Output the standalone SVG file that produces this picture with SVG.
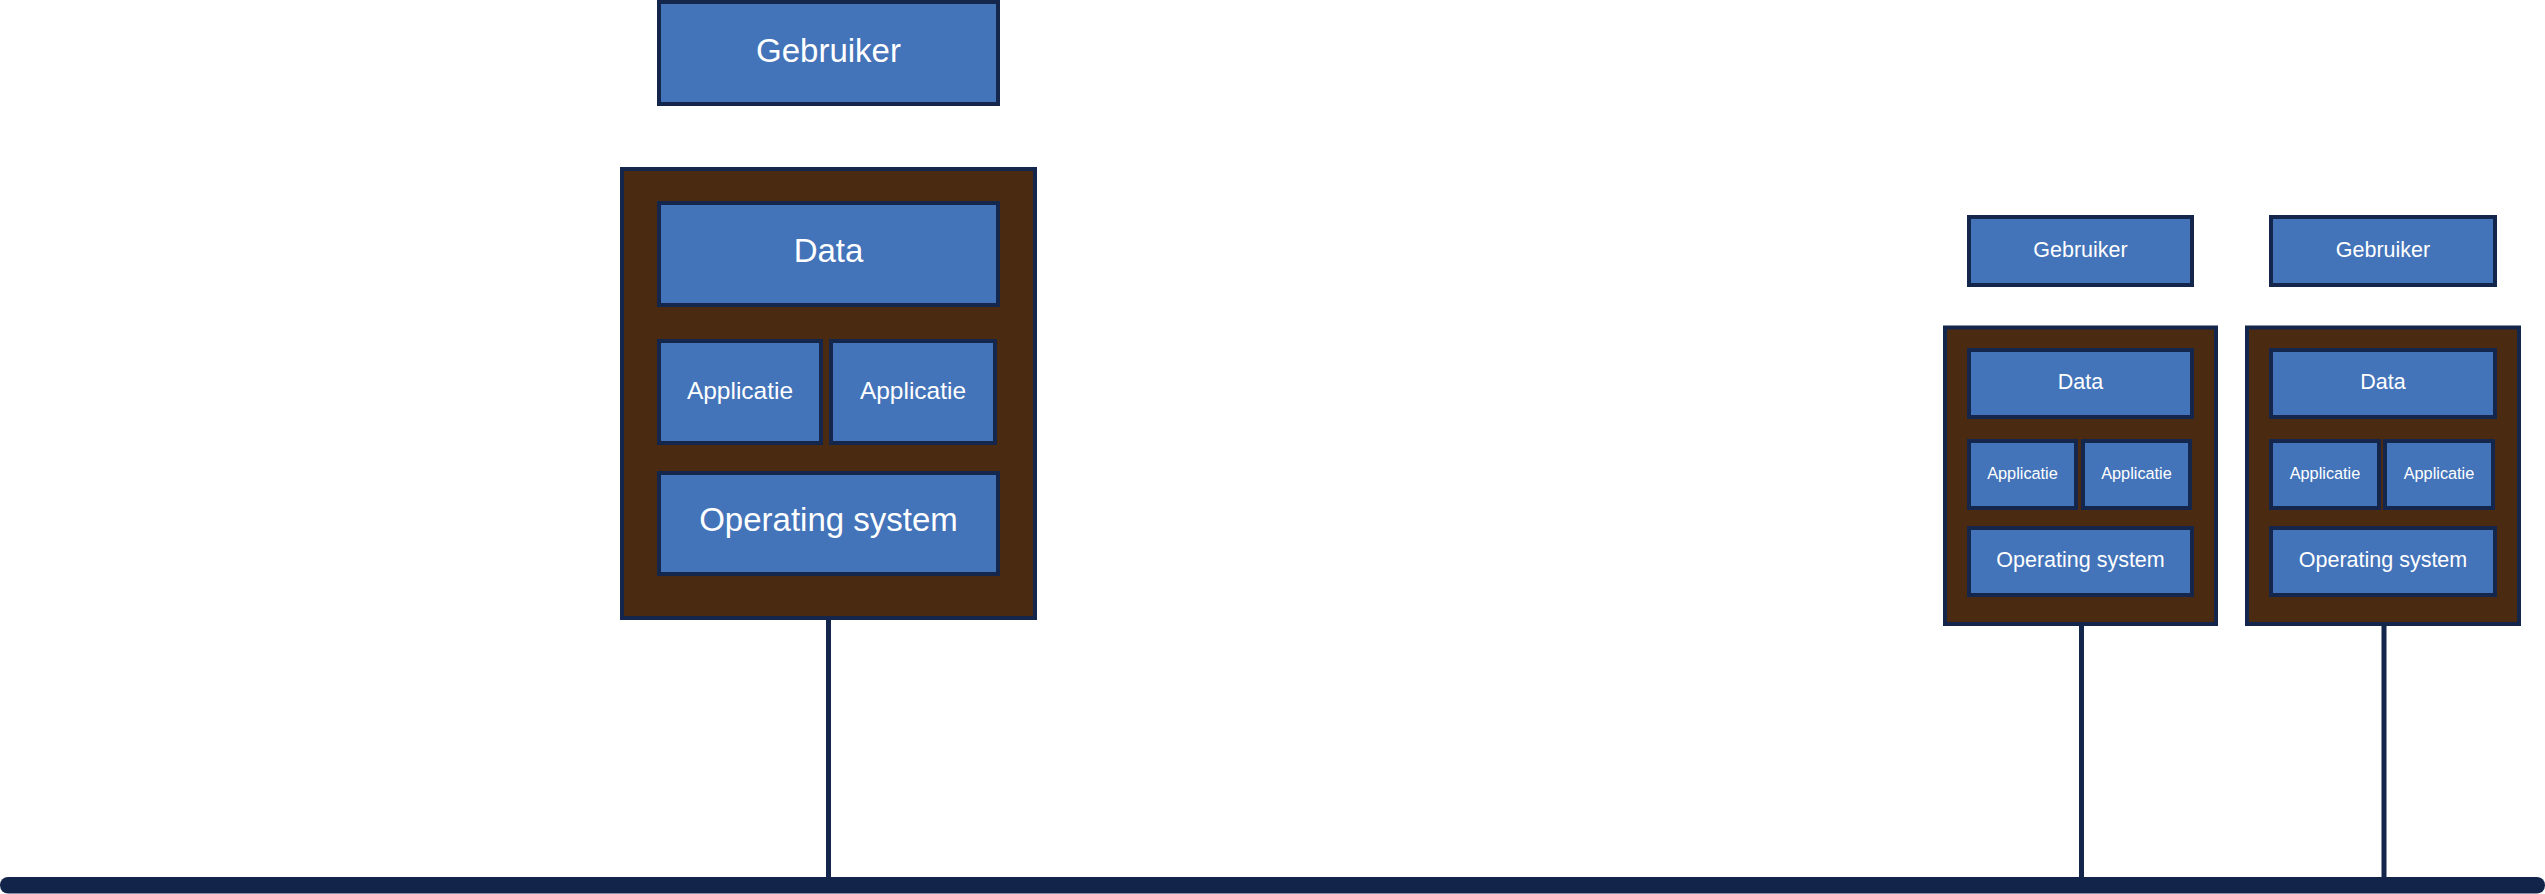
<svg xmlns="http://www.w3.org/2000/svg" width="2545" height="894" viewBox="0 0 2545 894">
<style>
.box{fill:#4373B9;stroke:#14264C;stroke-width:4}
.host{fill:#4A2B12;stroke:#14264C;stroke-width:4}
.wire{stroke:#14264C;stroke-width:5;fill:none}
text{font-family:"Liberation Sans",Arial,sans-serif;fill:#FFFFFF;text-anchor:middle}
.t33{font-size:33px}
.t24{font-size:24.5px}
.t21{font-size:21.5px}
.t16{font-size:16.3px}
</style>
<rect width="2545" height="894" fill="#FFFFFF"/>
<g id="connectors">
<line class="wire" x1="828.5" y1="620" x2="828.5" y2="880"/>
<line class="wire" x1="2081.5" y1="626" x2="2081.5" y2="880"/>
<line class="wire" x1="2384" y1="626" x2="2384" y2="880"/>
</g>
<g id="network">
<rect x="0" y="877" width="2545" height="16.5" rx="8" fill="#12244A"/>
</g>
<g id="user-main">
<rect class="box" x="659" y="2" width="339" height="102"/>
<text class="t33" x="828.5" y="62">Gebruiker</text>
</g>
<g id="host-main">
<rect class="host" x="622" y="169" width="413" height="449"/>
</g>
<g id="data-main">
<rect class="box" x="659" y="203" width="339" height="102"/>
<text class="t33" x="828.5" y="262">Data</text>
</g>
<g id="app-main-1">
<rect class="box" x="659" y="341" width="162" height="102"/>
<text class="t24" x="740" y="399">Applicatie</text>
</g>
<g id="app-main-2">
<rect class="box" x="831" y="341" width="164" height="102"/>
<text class="t24" x="913" y="399">Applicatie</text>
</g>
<g id="os-main">
<rect class="box" x="659" y="473" width="339" height="101"/>
<text class="t33" x="828.5" y="531">Operating system</text>
</g>
<g id="user-1">
<rect class="box" x="1969" y="217" width="223" height="68"/>
<text class="t21" x="2080.5" y="257">Gebruiker</text>
</g>
<g id="host-1">
<rect class="host" x="1945" y="327.5" width="271" height="296.5"/>
</g>
<g id="data-1">
<rect class="box" x="1969" y="350" width="223" height="67"/>
<text class="t21" x="2080.5" y="389">Data</text>
</g>
<g id="app-1a">
<rect class="box" x="1969" y="441" width="107" height="67"/>
<text class="t16" x="2022.5" y="479">Applicatie</text>
</g>
<g id="app-1b">
<rect class="box" x="2083" y="441" width="107" height="67"/>
<text class="t16" x="2136.5" y="479">Applicatie</text>
</g>
<g id="os-1">
<rect class="box" x="1969" y="528" width="223" height="67"/>
<text class="t21" x="2080.5" y="567">Operating system</text>
</g>
<g id="user-2">
<rect class="box" x="2271" y="217" width="224" height="68"/>
<text class="t21" x="2383" y="257">Gebruiker</text>
</g>
<g id="host-2">
<rect class="host" x="2247" y="327.5" width="272" height="296.5"/>
</g>
<g id="data-2">
<rect class="box" x="2271" y="350" width="224" height="67"/>
<text class="t21" x="2383" y="389">Data</text>
</g>
<g id="app-2a">
<rect class="box" x="2271" y="441" width="108" height="67"/>
<text class="t16" x="2325" y="479">Applicatie</text>
</g>
<g id="app-2b">
<rect class="box" x="2385" y="441" width="108" height="67"/>
<text class="t16" x="2439" y="479">Applicatie</text>
</g>
<g id="os-2">
<rect class="box" x="2271" y="528" width="224" height="67"/>
<text class="t21" x="2383" y="567">Operating system</text>
</g>
</svg>
